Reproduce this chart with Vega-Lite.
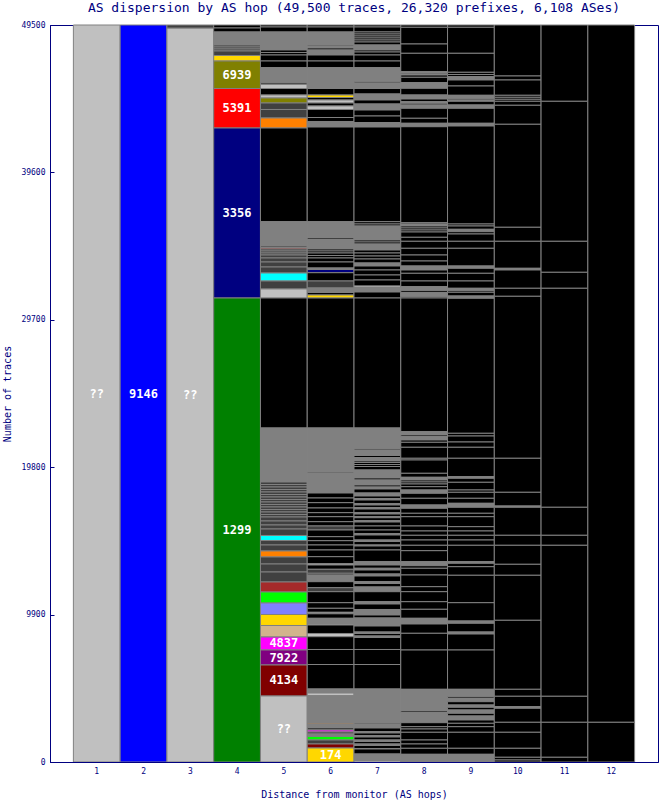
{
"$schema": "https://vega.github.io/schema/vega-lite/v6.json",
"width": 608, "height": 737,
"autosize": {"type": "none"},
"padding": {"left": 50, "top": 25, "right": 1, "bottom": 38},
"background": "white",
"title": {"text": "AS dispersion by AS hop (49,500 traces, 26,320 prefixes, 6,108 ASes)", "font": "DejaVu Sans Mono", "fontSize": 13, "fontWeight": "normal", "color": "#000080", "offset": 6, "anchor": "middle"},
"data": {"values": [
{"hop":1,"lo":0,"hi":49500,"as":"??","label":"??"},
{"hop":2,"lo":0,"hi":49500,"as":"9146","label":"9146"},
{"hop":3,"lo":0,"hi":49298,"as":"??","label":"??"},
{"hop":3,"lo":49298,"hi":49500,"as":"dark"},
{"hop":4,"lo":49298,"hi":49500,"as":"other"},
{"hop":4,"lo":49030,"hi":49298,"as":"other"},
{"hop":4,"lo":48157,"hi":49030,"as":"misc"},
{"hop":4,"lo":48022,"hi":48157,"as":"dark"},
{"hop":4,"lo":47888,"hi":48022,"as":"dark"},
{"hop":4,"lo":47754,"hi":47888,"as":"dark"},
{"hop":4,"lo":47451,"hi":47754,"as":"dark"},
{"hop":4,"lo":47082,"hi":47451,"as":"174"},
{"hop":4,"lo":45235,"hi":47082,"as":"6939","label":"6939"},
{"hop":4,"lo":42582,"hi":45235,"as":"5391","label":"5391"},
{"hop":4,"lo":31164,"hi":42582,"as":"3356","label":"3356"},
{"hop":4,"lo":0,"hi":31164,"as":"1299","label":"1299"},
{"hop":5,"lo":49366,"hi":49500,"as":"other"},
{"hop":5,"lo":49030,"hi":49366,"as":"other"},
{"hop":5,"lo":47821,"hi":49030,"as":"misc"},
{"hop":5,"lo":47653,"hi":47821,"as":"other"},
{"hop":5,"lo":47485,"hi":47653,"as":"other"},
{"hop":5,"lo":47082,"hi":47485,"as":"other"},
{"hop":5,"lo":46632,"hi":47082,"as":"other"},
{"hop":5,"lo":45624,"hi":46632,"as":"misc"},
{"hop":5,"lo":45504,"hi":45624,"as":"dark"},
{"hop":5,"lo":45235,"hi":45504,"as":"??"},
{"hop":5,"lo":44798,"hi":45235,"as":"other"},
{"hop":5,"lo":44597,"hi":44798,"as":"??"},
{"hop":5,"lo":44261,"hi":44597,"as":"6939"},
{"hop":5,"lo":43825,"hi":44261,"as":"dark"},
{"hop":5,"lo":43254,"hi":43825,"as":"dark"},
{"hop":5,"lo":42582,"hi":43254,"as":"orange"},
{"hop":5,"lo":36289,"hi":42582,"as":"other"},
{"hop":5,"lo":34657,"hi":36289,"as":"misc"},
{"hop":5,"lo":34556,"hi":34657,"as":"dark"},
{"hop":5,"lo":34455,"hi":34556,"as":"brown"},
{"hop":5,"lo":34321,"hi":34455,"as":"dark"},
{"hop":5,"lo":34186,"hi":34321,"as":"dark"},
{"hop":5,"lo":34052,"hi":34186,"as":"dark"},
{"hop":5,"lo":33851,"hi":34052,"as":"dark"},
{"hop":5,"lo":33582,"hi":33851,"as":"dark"},
{"hop":5,"lo":33246,"hi":33582,"as":"dark"},
{"hop":5,"lo":32843,"hi":33246,"as":"dark"},
{"hop":5,"lo":32306,"hi":32843,"as":"cyan"},
{"hop":5,"lo":31769,"hi":32306,"as":"dark"},
{"hop":5,"lo":31164,"hi":31769,"as":"??"},
{"hop":5,"lo":22433,"hi":31164,"as":"other"},
{"hop":5,"lo":18806,"hi":22433,"as":"misc"},
{"hop":5,"lo":18638,"hi":18806,"as":"dark"},
{"hop":5,"lo":18470,"hi":18638,"as":"dark"},
{"hop":5,"lo":18302,"hi":18470,"as":"dark"},
{"hop":5,"lo":18134,"hi":18302,"as":"dark"},
{"hop":5,"lo":17966,"hi":18134,"as":"dark"},
{"hop":5,"lo":17798,"hi":17966,"as":"dark"},
{"hop":5,"lo":17631,"hi":17798,"as":"dark"},
{"hop":5,"lo":17463,"hi":17631,"as":"dark"},
{"hop":5,"lo":17295,"hi":17463,"as":"dark"},
{"hop":5,"lo":17127,"hi":17295,"as":"dark"},
{"hop":5,"lo":16959,"hi":17127,"as":"dark"},
{"hop":5,"lo":16791,"hi":16959,"as":"dark"},
{"hop":5,"lo":16623,"hi":16791,"as":"dark"},
{"hop":5,"lo":16455,"hi":16623,"as":"dark"},
{"hop":5,"lo":16187,"hi":16455,"as":"dark"},
{"hop":5,"lo":15918,"hi":16187,"as":"dark"},
{"hop":5,"lo":15649,"hi":15918,"as":"dark"},
{"hop":5,"lo":15213,"hi":15649,"as":"dark"},
{"hop":5,"lo":14877,"hi":15213,"as":"cyan"},
{"hop":5,"lo":14575,"hi":14877,"as":"dark"},
{"hop":5,"lo":14172,"hi":14575,"as":"dark"},
{"hop":5,"lo":13769,"hi":14172,"as":"orange"},
{"hop":5,"lo":13298,"hi":13769,"as":"dark"},
{"hop":5,"lo":12761,"hi":13298,"as":"dark"},
{"hop":5,"lo":12090,"hi":12761,"as":"dark"},
{"hop":5,"lo":11418,"hi":12090,"as":"brown"},
{"hop":5,"lo":10679,"hi":11418,"as":"lime"},
{"hop":5,"lo":9907,"hi":10679,"as":"lavender"},
{"hop":5,"lo":9168,"hi":9907,"as":"174"},
{"hop":5,"lo":8396,"hi":9168,"as":"tan"},
{"hop":5,"lo":7522,"hi":8396,"as":"4837","label":"4837"},
{"hop":5,"lo":6515,"hi":7522,"as":"7922","label":"7922"},
{"hop":5,"lo":4433,"hi":6515,"as":"4134","label":"4134"},
{"hop":5,"lo":0,"hi":4433,"as":"??","label":"??"},
{"hop":6,"lo":49366,"hi":49500,"as":"other"},
{"hop":6,"lo":49030,"hi":49366,"as":"other"},
{"hop":6,"lo":48157,"hi":49030,"as":"misc"},
{"hop":6,"lo":48089,"hi":48157,"as":"other"},
{"hop":6,"lo":47955,"hi":48089,"as":"misc"},
{"hop":6,"lo":47821,"hi":47955,"as":"other"},
{"hop":6,"lo":47485,"hi":47821,"as":"misc"},
{"hop":6,"lo":47082,"hi":47485,"as":"other"},
{"hop":6,"lo":46632,"hi":47082,"as":"other"},
{"hop":6,"lo":45235,"hi":46632,"as":"misc"},
{"hop":6,"lo":44798,"hi":45235,"as":"other"},
{"hop":6,"lo":44630,"hi":44798,"as":"174"},
{"hop":6,"lo":44463,"hi":44630,"as":"other"},
{"hop":6,"lo":44261,"hi":44463,"as":"??"},
{"hop":6,"lo":44060,"hi":44261,"as":"other"},
{"hop":6,"lo":43825,"hi":44060,"as":"??"},
{"hop":6,"lo":43287,"hi":43825,"as":"other"},
{"hop":6,"lo":43019,"hi":43287,"as":"other"},
{"hop":6,"lo":42649,"hi":43019,"as":"misc"},
{"hop":6,"lo":36289,"hi":42649,"as":"other"},
{"hop":6,"lo":35194,"hi":36289,"as":"misc"},
{"hop":6,"lo":35093,"hi":35194,"as":"other"},
{"hop":6,"lo":34455,"hi":35093,"as":"misc"},
{"hop":6,"lo":34321,"hi":34455,"as":"other"},
{"hop":6,"lo":34186,"hi":34321,"as":"other"},
{"hop":6,"lo":34019,"hi":34186,"as":"other"},
{"hop":6,"lo":33851,"hi":34019,"as":"other"},
{"hop":6,"lo":33582,"hi":33851,"as":"other"},
{"hop":6,"lo":33179,"hi":33582,"as":"other"},
{"hop":6,"lo":33078,"hi":33179,"as":"misc"},
{"hop":6,"lo":32863,"hi":33078,"as":"3356"},
{"hop":6,"lo":32306,"hi":32863,"as":"other"},
{"hop":6,"lo":31836,"hi":32306,"as":"dark"},
{"hop":6,"lo":31533,"hi":31836,"as":"misc"},
{"hop":6,"lo":31366,"hi":31533,"as":"other"},
{"hop":6,"lo":31164,"hi":31366,"as":"174"},
{"hop":6,"lo":22433,"hi":31164,"as":"other"},
{"hop":6,"lo":19478,"hi":22433,"as":"misc"},
{"hop":6,"lo":19410,"hi":19478,"as":"other"},
{"hop":6,"lo":18067,"hi":19410,"as":"misc"},
{"hop":6,"lo":17731,"hi":18067,"as":"other"},
{"hop":6,"lo":17416,"hi":17731,"as":"other"},
{"hop":6,"lo":17060,"hi":17416,"as":"other"},
{"hop":6,"lo":16744,"hi":17060,"as":"other"},
{"hop":6,"lo":16475,"hi":16744,"as":"other"},
{"hop":6,"lo":16139,"hi":16475,"as":"other"},
{"hop":6,"lo":15851,"hi":16139,"as":"other"},
{"hop":6,"lo":15582,"hi":15851,"as":"dark"},
{"hop":6,"lo":15132,"hi":15582,"as":"other"},
{"hop":6,"lo":14863,"hi":15132,"as":"other"},
{"hop":6,"lo":14575,"hi":14863,"as":"other"},
{"hop":6,"lo":14239,"hi":14575,"as":"other"},
{"hop":6,"lo":13789,"hi":14239,"as":"other"},
{"hop":6,"lo":13332,"hi":13789,"as":"other"},
{"hop":6,"lo":13231,"hi":13332,"as":"??"},
{"hop":6,"lo":12943,"hi":13231,"as":"other"},
{"hop":6,"lo":12674,"hi":12943,"as":"dark"},
{"hop":6,"lo":12560,"hi":12674,"as":"other"},
{"hop":6,"lo":12110,"hi":12560,"as":"misc"},
{"hop":6,"lo":11707,"hi":12110,"as":"other"},
{"hop":6,"lo":11438,"hi":11707,"as":"dark"},
{"hop":6,"lo":10699,"hi":11438,"as":"other"},
{"hop":6,"lo":10323,"hi":10699,"as":"other"},
{"hop":6,"lo":10054,"hi":10323,"as":"other"},
{"hop":6,"lo":9954,"hi":10054,"as":"??"},
{"hop":6,"lo":9651,"hi":9954,"as":"other"},
{"hop":6,"lo":9269,"hi":9651,"as":"misc"},
{"hop":6,"lo":9201,"hi":9269,"as":"??"},
{"hop":6,"lo":8631,"hi":9201,"as":"other"},
{"hop":6,"lo":8416,"hi":8631,"as":"??"},
{"hop":6,"lo":7556,"hi":8416,"as":"other"},
{"hop":6,"lo":6548,"hi":7556,"as":"other"},
{"hop":6,"lo":4903,"hi":6548,"as":"other"},
{"hop":6,"lo":4634,"hi":4903,"as":"misc"},
{"hop":6,"lo":4453,"hi":4634,"as":"??"},
{"hop":6,"lo":2619,"hi":4453,"as":"misc"},
{"hop":6,"lo":2552,"hi":2619,"as":"orange"},
{"hop":6,"lo":2317,"hi":2552,"as":"misc"},
{"hop":6,"lo":2149,"hi":2317,"as":"dark"},
{"hop":6,"lo":2015,"hi":2149,"as":"4837"},
{"hop":6,"lo":1881,"hi":2015,"as":"dark"},
{"hop":6,"lo":1713,"hi":1881,"as":"misc"},
{"hop":6,"lo":1478,"hi":1713,"as":"lime"},
{"hop":6,"lo":1209,"hi":1478,"as":"dark"},
{"hop":6,"lo":940,"hi":1209,"as":"4134"},
{"hop":6,"lo":0,"hi":940,"as":"174","label":"174"},
{"hop":7,"lo":49366,"hi":49500,"as":"other"},
{"hop":7,"lo":49030,"hi":49366,"as":"other"},
{"hop":7,"lo":48895,"hi":49030,"as":"other"},
{"hop":7,"lo":48761,"hi":48895,"as":"other"},
{"hop":7,"lo":48627,"hi":48761,"as":"other"},
{"hop":7,"lo":48492,"hi":48627,"as":"other"},
{"hop":7,"lo":48358,"hi":48492,"as":"other"},
{"hop":7,"lo":48157,"hi":48358,"as":"other"},
{"hop":7,"lo":47821,"hi":48157,"as":"misc"},
{"hop":7,"lo":47686,"hi":47821,"as":"other"},
{"hop":7,"lo":47485,"hi":47686,"as":"other"},
{"hop":7,"lo":47082,"hi":47485,"as":"other"},
{"hop":7,"lo":46632,"hi":47082,"as":"other"},
{"hop":7,"lo":45692,"hi":46632,"as":"misc"},
{"hop":7,"lo":45604,"hi":45692,"as":"other"},
{"hop":7,"lo":45235,"hi":45604,"as":"misc"},
{"hop":7,"lo":44866,"hi":45235,"as":"other"},
{"hop":7,"lo":44463,"hi":44866,"as":"misc"},
{"hop":7,"lo":44194,"hi":44463,"as":"other"},
{"hop":7,"lo":43791,"hi":44194,"as":"misc"},
{"hop":7,"lo":43388,"hi":43791,"as":"other"},
{"hop":7,"lo":42951,"hi":43388,"as":"other"},
{"hop":7,"lo":42649,"hi":42951,"as":"misc"},
{"hop":7,"lo":36289,"hi":42649,"as":"other"},
{"hop":7,"lo":36134,"hi":36289,"as":"other"},
{"hop":7,"lo":36000,"hi":36134,"as":"other"},
{"hop":7,"lo":35060,"hi":36000,"as":"misc"},
{"hop":7,"lo":34925,"hi":35060,"as":"other"},
{"hop":7,"lo":34790,"hi":34925,"as":"other"},
{"hop":7,"lo":34388,"hi":34790,"as":"misc"},
{"hop":7,"lo":34186,"hi":34388,"as":"other"},
{"hop":7,"lo":33984,"hi":34186,"as":"other"},
{"hop":7,"lo":33783,"hi":33984,"as":"other"},
{"hop":7,"lo":33515,"hi":33783,"as":"other"},
{"hop":7,"lo":33313,"hi":33515,"as":"misc"},
{"hop":7,"lo":33045,"hi":33313,"as":"other"},
{"hop":7,"lo":32709,"hi":33045,"as":"other"},
{"hop":7,"lo":32373,"hi":32709,"as":"other"},
{"hop":7,"lo":31970,"hi":32373,"as":"other"},
{"hop":7,"lo":31869,"hi":31970,"as":"??"},
{"hop":7,"lo":31567,"hi":31869,"as":"misc"},
{"hop":7,"lo":31164,"hi":31567,"as":"other"},
{"hop":7,"lo":22433,"hi":31164,"as":"other"},
{"hop":7,"lo":21056,"hi":22433,"as":"misc"},
{"hop":7,"lo":20955,"hi":21056,"as":"other"},
{"hop":7,"lo":20586,"hi":20955,"as":"misc"},
{"hop":7,"lo":20451,"hi":20586,"as":"other"},
{"hop":7,"lo":20216,"hi":20451,"as":"misc"},
{"hop":7,"lo":20116,"hi":20216,"as":"other"},
{"hop":7,"lo":19981,"hi":20116,"as":"other"},
{"hop":7,"lo":19847,"hi":19981,"as":"other"},
{"hop":7,"lo":19612,"hi":19847,"as":"other"},
{"hop":7,"lo":19075,"hi":19612,"as":"misc"},
{"hop":7,"lo":18940,"hi":19075,"as":"other"},
{"hop":7,"lo":18604,"hi":18940,"as":"misc"},
{"hop":7,"lo":18470,"hi":18604,"as":"other"},
{"hop":7,"lo":18336,"hi":18470,"as":"misc"},
{"hop":7,"lo":18067,"hi":18336,"as":"other"},
{"hop":7,"lo":17866,"hi":18067,"as":"misc"},
{"hop":7,"lo":17698,"hi":17866,"as":"other"},
{"hop":7,"lo":17597,"hi":17698,"as":"misc"},
{"hop":7,"lo":17362,"hi":17597,"as":"other"},
{"hop":7,"lo":17261,"hi":17362,"as":"misc"},
{"hop":7,"lo":17093,"hi":17261,"as":"other"},
{"hop":7,"lo":16992,"hi":17093,"as":"misc"},
{"hop":7,"lo":16744,"hi":16992,"as":"other"},
{"hop":7,"lo":16657,"hi":16744,"as":"misc"},
{"hop":7,"lo":16475,"hi":16657,"as":"other"},
{"hop":7,"lo":16408,"hi":16475,"as":"misc"},
{"hop":7,"lo":16207,"hi":16408,"as":"other"},
{"hop":7,"lo":16119,"hi":16207,"as":"misc"},
{"hop":7,"lo":15851,"hi":16119,"as":"other"},
{"hop":7,"lo":15582,"hi":15851,"as":"other"},
{"hop":7,"lo":15347,"hi":15582,"as":"other"},
{"hop":7,"lo":15246,"hi":15347,"as":"misc"},
{"hop":7,"lo":14910,"hi":15246,"as":"other"},
{"hop":7,"lo":14810,"hi":14910,"as":"misc"},
{"hop":7,"lo":14575,"hi":14810,"as":"other"},
{"hop":7,"lo":14507,"hi":14575,"as":"misc"},
{"hop":7,"lo":14239,"hi":14507,"as":"other"},
{"hop":7,"lo":13453,"hi":14239,"as":"other"},
{"hop":7,"lo":13231,"hi":13453,"as":"misc"},
{"hop":7,"lo":13010,"hi":13231,"as":"other"},
{"hop":7,"lo":12895,"hi":13010,"as":"misc"},
{"hop":7,"lo":12627,"hi":12895,"as":"other"},
{"hop":7,"lo":12493,"hi":12627,"as":"misc"},
{"hop":7,"lo":12110,"hi":12493,"as":"other"},
{"hop":7,"lo":11989,"hi":12110,"as":"misc"},
{"hop":7,"lo":11754,"hi":11989,"as":"other"},
{"hop":7,"lo":11438,"hi":11754,"as":"misc"},
{"hop":7,"lo":10766,"hi":11438,"as":"other"},
{"hop":7,"lo":10612,"hi":10766,"as":"misc"},
{"hop":7,"lo":10243,"hi":10612,"as":"other"},
{"hop":7,"lo":9873,"hi":10243,"as":"misc"},
{"hop":7,"lo":9672,"hi":9873,"as":"other"},
{"hop":7,"lo":9134,"hi":9672,"as":"misc"},
{"hop":7,"lo":8731,"hi":9134,"as":"other"},
{"hop":7,"lo":8631,"hi":8731,"as":"misc"},
{"hop":7,"lo":8463,"hi":8631,"as":"other"},
{"hop":7,"lo":8362,"hi":8463,"as":"misc"},
{"hop":7,"lo":7556,"hi":8362,"as":"other"},
{"hop":7,"lo":6548,"hi":7556,"as":"other"},
{"hop":7,"lo":4903,"hi":6548,"as":"other"},
{"hop":7,"lo":2619,"hi":4903,"as":"misc"},
{"hop":7,"lo":2552,"hi":2619,"as":"other"},
{"hop":7,"lo":2284,"hi":2552,"as":"misc"},
{"hop":7,"lo":2048,"hi":2284,"as":"other"},
{"hop":7,"lo":1948,"hi":2048,"as":"misc"},
{"hop":7,"lo":1780,"hi":1948,"as":"other"},
{"hop":7,"lo":1679,"hi":1780,"as":"misc"},
{"hop":7,"lo":1478,"hi":1679,"as":"other"},
{"hop":7,"lo":1377,"hi":1478,"as":"misc"},
{"hop":7,"lo":1209,"hi":1377,"as":"other"},
{"hop":7,"lo":1108,"hi":1209,"as":"misc"},
{"hop":7,"lo":907,"hi":1108,"as":"other"},
{"hop":7,"lo":873,"hi":907,"as":"misc"},
{"hop":7,"lo":537,"hi":873,"as":"other"},
{"hop":7,"lo":101,"hi":537,"as":"misc"},
{"hop":7,"lo":0,"hi":101,"as":"??"},
{"hop":8,"lo":49345,"hi":49500,"as":"other"},
{"hop":8,"lo":48224,"hi":49345,"as":"other"},
{"hop":8,"lo":47599,"hi":48224,"as":"other"},
{"hop":8,"lo":46363,"hi":47599,"as":"other"},
{"hop":8,"lo":46276,"hi":46363,"as":"misc"},
{"hop":8,"lo":46209,"hi":46276,"as":"other"},
{"hop":8,"lo":46142,"hi":46209,"as":"misc"},
{"hop":8,"lo":45987,"hi":46142,"as":"other"},
{"hop":8,"lo":45624,"hi":45987,"as":"other"},
{"hop":8,"lo":45248,"hi":45624,"as":"misc"},
{"hop":8,"lo":44798,"hi":45248,"as":"other"},
{"hop":8,"lo":44530,"hi":44798,"as":"misc"},
{"hop":8,"lo":44348,"hi":44530,"as":"other"},
{"hop":8,"lo":44241,"hi":44348,"as":"misc"},
{"hop":8,"lo":44127,"hi":44241,"as":"other"},
{"hop":8,"lo":43905,"hi":44127,"as":"misc"},
{"hop":8,"lo":43234,"hi":43905,"as":"other"},
{"hop":8,"lo":42898,"hi":43234,"as":"other"},
{"hop":8,"lo":42669,"hi":42898,"as":"misc"},
{"hop":8,"lo":36222,"hi":42669,"as":"other"},
{"hop":8,"lo":36134,"hi":36222,"as":"other"},
{"hop":8,"lo":36000,"hi":36134,"as":"misc"},
{"hop":8,"lo":35866,"hi":36000,"as":"other"},
{"hop":8,"lo":35731,"hi":35866,"as":"other"},
{"hop":8,"lo":35597,"hi":35731,"as":"other"},
{"hop":8,"lo":35241,"hi":35597,"as":"other"},
{"hop":8,"lo":34972,"hi":35241,"as":"other"},
{"hop":8,"lo":34502,"hi":34972,"as":"other"},
{"hop":8,"lo":34052,"hi":34502,"as":"other"},
{"hop":8,"lo":33649,"hi":34052,"as":"other"},
{"hop":8,"lo":33313,"hi":33649,"as":"other"},
{"hop":8,"lo":33045,"hi":33313,"as":"misc"},
{"hop":8,"lo":32823,"hi":33045,"as":"other"},
{"hop":8,"lo":32306,"hi":32823,"as":"other"},
{"hop":8,"lo":31923,"hi":32306,"as":"other"},
{"hop":8,"lo":31654,"hi":31923,"as":"misc"},
{"hop":8,"lo":31520,"hi":31654,"as":"other"},
{"hop":8,"lo":31252,"hi":31520,"as":"misc"},
{"hop":8,"lo":31164,"hi":31252,"as":"other"},
{"hop":8,"lo":22184,"hi":31164,"as":"other"},
{"hop":8,"lo":21963,"hi":22184,"as":"misc"},
{"hop":8,"lo":21848,"hi":21963,"as":"other"},
{"hop":8,"lo":21627,"hi":21848,"as":"misc"},
{"hop":8,"lo":21472,"hi":21627,"as":"other"},
{"hop":8,"lo":21137,"hi":21472,"as":"other"},
{"hop":8,"lo":20398,"hi":21137,"as":"other"},
{"hop":8,"lo":20284,"hi":20398,"as":"other"},
{"hop":8,"lo":19390,"hi":20284,"as":"other"},
{"hop":8,"lo":19122,"hi":19390,"as":"other"},
{"hop":8,"lo":18940,"hi":19122,"as":"misc"},
{"hop":8,"lo":18806,"hi":18940,"as":"other"},
{"hop":8,"lo":18672,"hi":18806,"as":"other"},
{"hop":8,"lo":18490,"hi":18672,"as":"other"},
{"hop":8,"lo":18269,"hi":18490,"as":"other"},
{"hop":8,"lo":18047,"hi":18269,"as":"misc"},
{"hop":8,"lo":17711,"hi":18047,"as":"other"},
{"hop":8,"lo":17261,"hi":17711,"as":"other"},
{"hop":8,"lo":17040,"hi":17261,"as":"misc"},
{"hop":8,"lo":16704,"hi":17040,"as":"other"},
{"hop":8,"lo":16475,"hi":16704,"as":"other"},
{"hop":8,"lo":15851,"hi":16475,"as":"other"},
{"hop":8,"lo":15515,"hi":15851,"as":"other"},
{"hop":8,"lo":15226,"hi":15515,"as":"other"},
{"hop":8,"lo":14910,"hi":15226,"as":"other"},
{"hop":8,"lo":14554,"hi":14910,"as":"other"},
{"hop":8,"lo":14192,"hi":14554,"as":"other"},
{"hop":8,"lo":13453,"hi":14192,"as":"other"},
{"hop":8,"lo":13184,"hi":13453,"as":"misc"},
{"hop":8,"lo":13010,"hi":13184,"as":"other"},
{"hop":8,"lo":12560,"hi":13010,"as":"other"},
{"hop":8,"lo":11774,"hi":12560,"as":"other"},
{"hop":8,"lo":11438,"hi":11774,"as":"other"},
{"hop":8,"lo":10766,"hi":11438,"as":"other"},
{"hop":8,"lo":10256,"hi":10766,"as":"other"},
{"hop":8,"lo":9651,"hi":10256,"as":"other"},
{"hop":8,"lo":9269,"hi":9651,"as":"misc"},
{"hop":8,"lo":8644,"hi":9269,"as":"other"},
{"hop":8,"lo":7522,"hi":8644,"as":"other"},
{"hop":8,"lo":4883,"hi":7522,"as":"other"},
{"hop":8,"lo":3425,"hi":4883,"as":"misc"},
{"hop":8,"lo":3325,"hi":3425,"as":"other"},
{"hop":8,"lo":2640,"hi":3325,"as":"misc"},
{"hop":8,"lo":2371,"hi":2640,"as":"other"},
{"hop":8,"lo":2216,"hi":2371,"as":"other"},
{"hop":8,"lo":1995,"hi":2216,"as":"other"},
{"hop":8,"lo":1478,"hi":1995,"as":"other"},
{"hop":8,"lo":1209,"hi":1478,"as":"other"},
{"hop":8,"lo":920,"hi":1209,"as":"other"},
{"hop":8,"lo":517,"hi":920,"as":"other"},
{"hop":8,"lo":0,"hi":517,"as":"misc"},
{"hop":9,"lo":49345,"hi":49500,"as":"other"},
{"hop":9,"lo":47599,"hi":49345,"as":"other"},
{"hop":9,"lo":46323,"hi":47599,"as":"other"},
{"hop":9,"lo":46175,"hi":46323,"as":"other"},
{"hop":9,"lo":46028,"hi":46175,"as":"other"},
{"hop":9,"lo":45806,"hi":46028,"as":"misc"},
{"hop":9,"lo":45403,"hi":45806,"as":"other"},
{"hop":9,"lo":44778,"hi":45403,"as":"other"},
{"hop":9,"lo":44550,"hi":44778,"as":"misc"},
{"hop":9,"lo":44463,"hi":44550,"as":"other"},
{"hop":9,"lo":44375,"hi":44463,"as":"misc"},
{"hop":9,"lo":44127,"hi":44375,"as":"other"},
{"hop":9,"lo":43905,"hi":44127,"as":"misc"},
{"hop":9,"lo":42898,"hi":43905,"as":"other"},
{"hop":9,"lo":42716,"hi":42898,"as":"misc"},
{"hop":9,"lo":36134,"hi":42716,"as":"other"},
{"hop":9,"lo":36000,"hi":36134,"as":"other"},
{"hop":9,"lo":35778,"hi":36000,"as":"other"},
{"hop":9,"lo":35617,"hi":35778,"as":"misc"},
{"hop":9,"lo":35463,"hi":35617,"as":"other"},
{"hop":9,"lo":34972,"hi":35463,"as":"other"},
{"hop":9,"lo":34502,"hi":34972,"as":"other"},
{"hop":9,"lo":33313,"hi":34502,"as":"other"},
{"hop":9,"lo":33159,"hi":33313,"as":"misc"},
{"hop":9,"lo":32823,"hi":33159,"as":"other"},
{"hop":9,"lo":32306,"hi":32823,"as":"other"},
{"hop":9,"lo":31816,"hi":32306,"as":"other"},
{"hop":9,"lo":31654,"hi":31816,"as":"misc"},
{"hop":9,"lo":31547,"hi":31654,"as":"other"},
{"hop":9,"lo":31298,"hi":31547,"as":"other"},
{"hop":9,"lo":31144,"hi":31298,"as":"misc"},
{"hop":9,"lo":22077,"hi":31144,"as":"other"},
{"hop":9,"lo":21895,"hi":22077,"as":"other"},
{"hop":9,"lo":21492,"hi":21895,"as":"other"},
{"hop":9,"lo":21137,"hi":21492,"as":"other"},
{"hop":9,"lo":20398,"hi":21137,"as":"other"},
{"hop":9,"lo":19162,"hi":20398,"as":"other"},
{"hop":9,"lo":19054,"hi":19162,"as":"misc"},
{"hop":9,"lo":18786,"hi":19054,"as":"other"},
{"hop":9,"lo":18269,"hi":18786,"as":"other"},
{"hop":9,"lo":18114,"hi":18269,"as":"other"},
{"hop":9,"lo":17711,"hi":18114,"as":"other"},
{"hop":9,"lo":17375,"hi":17711,"as":"other"},
{"hop":9,"lo":17107,"hi":17375,"as":"misc"},
{"hop":9,"lo":16704,"hi":17107,"as":"other"},
{"hop":9,"lo":16475,"hi":16704,"as":"other"},
{"hop":9,"lo":15804,"hi":16475,"as":"other"},
{"hop":9,"lo":15515,"hi":15804,"as":"other"},
{"hop":9,"lo":15226,"hi":15515,"as":"other"},
{"hop":9,"lo":14910,"hi":15226,"as":"other"},
{"hop":9,"lo":14554,"hi":14910,"as":"other"},
{"hop":9,"lo":13453,"hi":14554,"as":"other"},
{"hop":9,"lo":13345,"hi":13453,"as":"misc"},
{"hop":9,"lo":13117,"hi":13345,"as":"other"},
{"hop":9,"lo":12540,"hi":13117,"as":"other"},
{"hop":9,"lo":10699,"hi":12540,"as":"other"},
{"hop":9,"lo":9470,"hi":10699,"as":"other"},
{"hop":9,"lo":9316,"hi":9470,"as":"misc"},
{"hop":9,"lo":8731,"hi":9316,"as":"other"},
{"hop":9,"lo":8597,"hi":8731,"as":"misc"},
{"hop":9,"lo":7522,"hi":8597,"as":"other"},
{"hop":9,"lo":4883,"hi":7522,"as":"other"},
{"hop":9,"lo":4386,"hi":4883,"as":"misc"},
{"hop":9,"lo":4278,"hi":4386,"as":"other"},
{"hop":9,"lo":4050,"hi":4278,"as":"misc"},
{"hop":9,"lo":3828,"hi":4050,"as":"other"},
{"hop":9,"lo":3674,"hi":3828,"as":"misc"},
{"hop":9,"lo":3493,"hi":3674,"as":"other"},
{"hop":9,"lo":3271,"hi":3493,"as":"misc"},
{"hop":9,"lo":3090,"hi":3271,"as":"other"},
{"hop":9,"lo":2821,"hi":3090,"as":"misc"},
{"hop":9,"lo":2599,"hi":2821,"as":"other"},
{"hop":9,"lo":2371,"hi":2599,"as":"other"},
{"hop":9,"lo":1995,"hi":2371,"as":"other"},
{"hop":9,"lo":920,"hi":1995,"as":"other"},
{"hop":9,"lo":517,"hi":920,"as":"other"},
{"hop":9,"lo":0,"hi":517,"as":"misc"},
{"hop":10,"lo":46075,"hi":49500,"as":"other"},
{"hop":10,"lo":45806,"hi":46075,"as":"other"},
{"hop":10,"lo":44778,"hi":45806,"as":"other"},
{"hop":10,"lo":44644,"hi":44778,"as":"other"},
{"hop":10,"lo":44510,"hi":44644,"as":"other"},
{"hop":10,"lo":44375,"hi":44510,"as":"other"},
{"hop":10,"lo":44107,"hi":44375,"as":"other"},
{"hop":10,"lo":42831,"hi":44107,"as":"other"},
{"hop":10,"lo":35913,"hi":42831,"as":"other"},
{"hop":10,"lo":34972,"hi":35913,"as":"other"},
{"hop":10,"lo":33159,"hi":34972,"as":"other"},
{"hop":10,"lo":33045,"hi":33159,"as":"misc"},
{"hop":10,"lo":31816,"hi":33045,"as":"other"},
{"hop":10,"lo":31278,"hi":31816,"as":"other"},
{"hop":10,"lo":20398,"hi":31278,"as":"other"},
{"hop":10,"lo":18114,"hi":20398,"as":"other"},
{"hop":10,"lo":17194,"hi":18114,"as":"other"},
{"hop":10,"lo":17107,"hi":17194,"as":"misc"},
{"hop":10,"lo":15226,"hi":17107,"as":"other"},
{"hop":10,"lo":14554,"hi":15226,"as":"other"},
{"hop":10,"lo":13278,"hi":14554,"as":"other"},
{"hop":10,"lo":12540,"hi":13278,"as":"other"},
{"hop":10,"lo":9517,"hi":12540,"as":"other"},
{"hop":10,"lo":4883,"hi":9517,"as":"other"},
{"hop":10,"lo":4413,"hi":4883,"as":"other"},
{"hop":10,"lo":3714,"hi":4413,"as":"other"},
{"hop":10,"lo":3607,"hi":3714,"as":"misc"},
{"hop":10,"lo":2666,"hi":3607,"as":"other"},
{"hop":10,"lo":1995,"hi":2666,"as":"other"},
{"hop":10,"lo":920,"hi":1995,"as":"other"},
{"hop":10,"lo":316,"hi":920,"as":"other"},
{"hop":10,"lo":134,"hi":316,"as":"other"},
{"hop":10,"lo":0,"hi":134,"as":"other"},
{"hop":11,"lo":44375,"hi":49500,"as":"other"},
{"hop":11,"lo":34972,"hi":44375,"as":"other"},
{"hop":11,"lo":32890,"hi":34972,"as":"other"},
{"hop":11,"lo":31816,"hi":32890,"as":"other"},
{"hop":11,"lo":17107,"hi":31816,"as":"other"},
{"hop":11,"lo":15226,"hi":17107,"as":"other"},
{"hop":11,"lo":14554,"hi":15226,"as":"other"},
{"hop":11,"lo":4413,"hi":14554,"as":"other"},
{"hop":11,"lo":2666,"hi":4413,"as":"other"},
{"hop":11,"lo":316,"hi":2666,"as":"other"},
{"hop":11,"lo":0,"hi":316,"as":"other"},
{"hop":12,"lo":2666,"hi":49500,"as":"other"},
{"hop":12,"lo":0,"hi":2666,"as":"other"}
]},
"encoding": {
  "x": {"field": "hop", "type": "ordinal", "scale": {"paddingInner": 0, "paddingOuter": 0.5},
        "axis": {"title": "Distance from monitor (AS hops)", "labelAngle": 0, "ticks": false, "labelPadding": 5, "titlePadding": 14}}
},
"layer": [
  {"mark": {"type": "rect", "stroke": "#808080", "strokeWidth": 1},
   "encoding": {
     "y": {"field": "lo", "type": "quantitative", "scale": {"domain": [0, 49500], "nice": false, "zero": true},
           "axis": {"title": "Number of traces", "values": [0, 9900, 19800, 29700, 39600, 49500], "format": "d", "tickSize": -4, "labelPadding": 9, "titlePadding": 8}},
     "y2": {"field": "hi"},
     "color": {"field": "as", "type": "nominal", "legend": null,
       "scale": {"domain": ["??","9146","3356","1299","6939","5391","4837","7922","4134","174","cyan","orange","brown","lime","lavender","tan","dark","misc","other"],
                 "range": ["#c0c0c0","#0000ff","#000080","#008000","#808000","#ff0000","#ff00ff","#800080","#800000","#ffd700","#00ffff","#ff8000","#a52a2a","#00ff00","#8080ff","#d2b48c","#404040","#808080","#000000"]}}
   }},
  {"transform": [{"filter": "datum.label"}, {"calculate": "(datum.lo + datum.hi) / 2", "as": "mid"}],
   "mark": {"type": "text", "color": "white", "font": "DejaVu Sans Mono", "fontSize": 12, "fontWeight": "bold", "baseline": "middle", "align": "center"},
   "encoding": {"y": {"field": "mid", "type": "quantitative"}, "text": {"field": "label"}}}
],
"config": {
  "view": {"stroke": "#000080", "strokeWidth": 1},
  "axis": {"domainColor": "#000080", "tickColor": "#000080", "labelColor": "#000080", "titleColor": "#000080",
           "labelFont": "DejaVu Sans Mono", "titleFont": "DejaVu Sans Mono", "labelFontSize": 8, "titleFontSize": 10,
           "titleFontWeight": "normal", "grid": false, "domainWidth": 1}
}
}
